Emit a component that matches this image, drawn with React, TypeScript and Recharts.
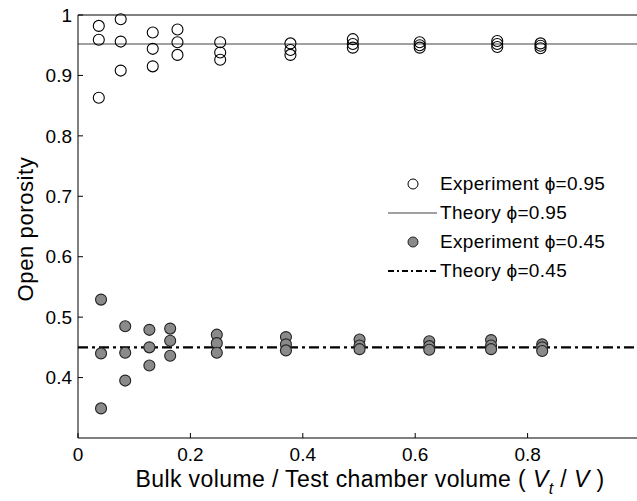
import React from "react";
import {
  ComposedChart,
  Scatter,
  Line,
  XAxis,
  YAxis,
} from "recharts";

// x positions of the measurement columns (bulk volume / chamber volume)
const xHigh = [0.037, 0.076, 0.133, 0.177, 0.253, 0.378, 0.489, 0.608, 0.746, 0.823];
const xLow = [0.041, 0.084, 0.127, 0.164, 0.247, 0.37, 0.501, 0.625, 0.735, 0.826];

// three repeats per column
const yHigh = [
  [0.982, 0.959, 0.863],
  [0.993, 0.956, 0.908],
  [0.971, 0.944, 0.915],
  [0.976, 0.955, 0.934],
  [0.955, 0.938, 0.926],
  [0.953, 0.942, 0.934],
  [0.96, 0.952, 0.946],
  [0.955, 0.95, 0.946],
  [0.957, 0.952, 0.947],
  [0.953, 0.949, 0.945],
];
const yLow = [
  [0.529, 0.44, 0.349],
  [0.485, 0.441, 0.395],
  [0.479, 0.45, 0.42],
  [0.481, 0.461, 0.436],
  [0.471, 0.457, 0.441],
  [0.467, 0.455, 0.445],
  [0.463, 0.453, 0.447],
  [0.46, 0.452, 0.446],
  [0.462, 0.453, 0.447],
  [0.455, 0.45, 0.444],
];

const theoryX = [0, 1];
const theoryHigh = 0.952;
const theoryLow = 0.45;

const xTicks = [0, 0.2, 0.4, 0.6, 0.8];
const yTicks = [0.4, 0.5, 0.6, 0.7, 0.8, 0.9, 1];

const FONT = "'Liberation Sans', Arial, sans-serif";

const toPoints = (xs: number[], ys: number[][]) =>
  xs.flatMap((x, i) => ys[i].map((y) => ({ x, y })));

const highPts = toPoints(xHigh, yHigh);
const lowPts = toPoints(xLow, yLow);
const highLine = theoryX.map((x) => ({ x, y: theoryHigh }));
const lowLine = theoryX.map((x) => ({ x, y: theoryLow }));

const OpenDot = (p: any) => (
  <circle cx={p.cx} cy={p.cy} r={5.5} fill="none" stroke="#000" strokeWidth={1.1} />
);
const FilledDot = (p: any) => (
  <circle cx={p.cx} cy={p.cy} r={5.5} fill="#8a8a8a" stroke="#222" strokeWidth={1.1} />
);

const legendRows = [
  { kind: "open", label: "Experiment ϕ=0.95" },
  { kind: "grayline", label: "Theory ϕ=0.95" },
  { kind: "filled", label: "Experiment ϕ=0.45" },
  { kind: "dashdot", label: "Theory ϕ=0.45" },
];

function LegendBox() {
  return (
    <div
      style={{
        position: "absolute",
        left: 387,
        top: 169,
        fontFamily: FONT,
        fontSize: 19,
        letterSpacing: 0.3,
        color: "#000",
      }}
    >
      {legendRows.map((r) => (
        <div key={r.label} style={{ display: "flex", alignItems: "center", height: 29 }}>
          <svg width={51} height={14} style={{ marginRight: 2 }}>
            {r.kind === "open" && <circle cx={26} cy={7} r={5} fill="none" stroke="#000" />}
            {r.kind === "filled" && <circle cx={26} cy={7} r={5} fill="#8a8a8a" stroke="#222" />}
            {r.kind === "grayline" && <line x1={1} x2={50} y1={7} y2={7} stroke="#a0a0a0" strokeWidth={2} />}
            {r.kind === "dashdot" && (
              <line x1={1} x2={50} y1={7} y2={7} stroke="#000" strokeWidth={2} strokeDasharray="6 3 2 3" />
            )}
          </svg>
          <span>{r.label}</span>
        </div>
      ))}
    </div>
  );
}

export default function App() {
  const tickStyle = { fontSize: 19, fontFamily: FONT, fill: "#000" };
  return (
    <div style={{ position: "absolute", left: 0, top: 0, width: 637, height: 501, overflow: "hidden", background: "#fff" }}>
      <ComposedChart width={641} height={501} margin={{ top: 14, right: 0, left: 0, bottom: 0 }}>
        <XAxis
          xAxisId={0}
          type="number"
          dataKey="x"
          domain={[0, 1]}
          ticks={xTicks}
          height={63}
          stroke="#000"
          tickSize={-5}
          tickMargin={15}
          tick={tickStyle}
          label={{
            content: () => (
              <text
                x={370}
                y={487}
                textAnchor="middle"
                fontFamily={FONT}
                fontSize={23}
                letterSpacing={0.4}
                fill="#000"
              >
                Bulk volume / Test chamber volume (
                <tspan fontStyle="italic"> V</tspan>
                <tspan fontStyle="italic" fontSize={16} dy={7}>t</tspan>
                <tspan dy={-7}> / </tspan>
                <tspan fontStyle="italic">V</tspan> )
              </text>
            ),
          }}
        />
        <XAxis
          xAxisId="top"
          orientation="top"
          type="number"
          dataKey="x"
          domain={[0, 1]}
          ticks={xTicks}
          height={1}
          stroke="#000"
          tickSize={-5}
          tick={false}
        />
        <YAxis
          yAxisId={0}
          type="number"
          dataKey="y"
          domain={[0.3, 1]}
          ticks={yTicks}
          width={78}
          stroke="#000"
          tickSize={-5}
          tickMargin={11}
          tick={tickStyle}
          label={{
            content: () => (
              <text
                x={0}
                y={0}
                transform="translate(33 229) rotate(-90)"
                textAnchor="middle"
                fontFamily={FONT}
                fontSize={22}
                letterSpacing={0.6}
                fill="#000"
              >
                Open porosity
              </text>
            ),
          }}
        />
        <YAxis
          yAxisId="right"
          orientation="right"
          type="number"
          dataKey="y"
          domain={[0.3, 1]}
          ticks={yTicks}
          width={1}
          stroke="#000"
          tickSize={-5}
          tick={false}
        />
        <Line
          data={highLine}
          dataKey="y"
          stroke="#a0a0a0"
          strokeWidth={2}
          dot={false}
          isAnimationActive={false}
        />
        <Line
          data={lowLine}
          dataKey="y"
          stroke="#000"
          strokeWidth={2.2}
          strokeDasharray="10 4 3 4"
          dot={false}
          isAnimationActive={false}
        />
        <Scatter data={highPts} dataKey="y" shape={OpenDot} isAnimationActive={false} />
        <Scatter data={lowPts} dataKey="y" shape={FilledDot} isAnimationActive={false} />
      </ComposedChart>
      <LegendBox />
    </div>
  );
}
